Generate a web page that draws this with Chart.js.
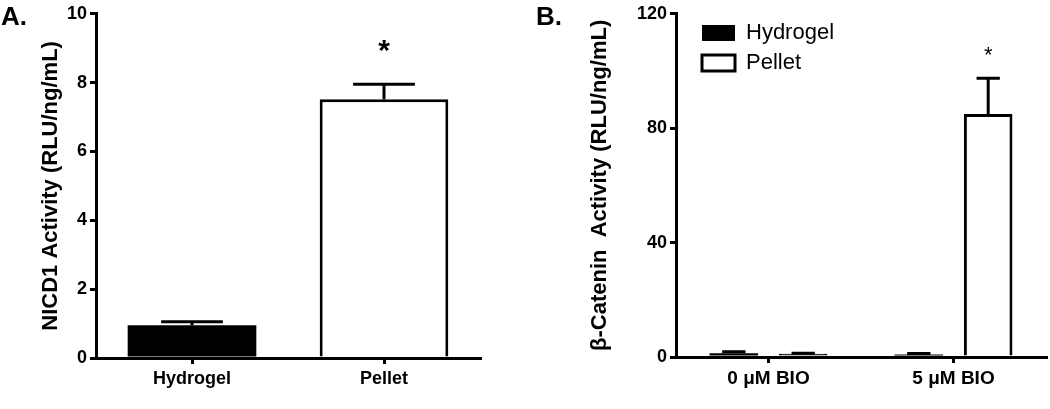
<!DOCTYPE html>
<html>
<head>
<meta charset="utf-8">
<script src="https://cdn.jsdelivr.net/npm/chart.js@4.4.0/dist/chart.umd.min.js"></script>
<style>
  body { margin: 0; background: #fff; }
  #wrap { position: relative; width: 1050px; height: 409px; font-family: Arial, "Liberation Sans", sans-serif; }
  .box { position: absolute; top: 0; height: 409px; }
  .tag { position: absolute; top: 3px; font-size: 26px; font-weight: bold; line-height: 1; color: #000; }
</style>
</head>
<body>
<div id="wrap">
  <div class="box" style="left:0;width:500px"><canvas id="chartA"></canvas></div>
  <div class="box" style="left:500px;width:550px"><canvas id="chartB"></canvas></div>
  <div class="tag" style="left:1px">A.</div>
  <div class="tag" style="left:536px">B.</div>
</div>
<script>
// panel A
var groupsA = ["Hydrogel", "Pellet"];
var meanA = [0.95, 7.52];
var errA = [0.1, 0.43];
var starA = ["", "*"];
var ticksA = [0, 2, 4, 6, 8, 10];

// panel B
var groupsB = ["0 μM BIO", "5 μM BIO"];
var hydrogelB = [1.3, 0.9];
var hydrogelErrB = [0.5, 0.3];
var pelletB = [1.1, 85];
var pelletErrB = [0.2, 12.5];
var pelletStarB = ["", "*"];
var ticksB = [0, 40, 80, 120];

Chart.defaults.font.family = "Arial, 'Liberation Sans', sans-serif";
Chart.defaults.color = "#000";

// one-sided error bars (+SEM) and significance stars
var errorBars = {
  id: "errorBars",
  afterDatasetsDraw: function(chart, args, opts) {
    var ctx = chart.ctx;
    var y = chart.scales.y;
    chart.data.datasets.forEach(function(ds, i) {
      var meta = chart.getDatasetMeta(i);
      meta.data.forEach(function(bar, j) {
        var top = y.getPixelForValue(ds.data[j] + ds.err[j]);
        var half = bar.width * 0.24;
        ctx.save();
        ctx.strokeStyle = "#000";
        ctx.lineWidth = 3;
        ctx.beginPath();
        ctx.moveTo(bar.x, bar.y);
        ctx.lineTo(bar.x, top);
        ctx.moveTo(bar.x - half, top);
        ctx.lineTo(bar.x + half, top);
        ctx.stroke();
        if (ds.stars && ds.stars[j]) {
          ctx.fillStyle = "#000";
          ctx.font = opts.starFont;
          ctx.textAlign = "center";
          ctx.textBaseline = "alphabetic";
          ctx.fillText(ds.stars[j], bar.x, top - opts.starGap);
        }
        ctx.restore();
      });
    });
  }
};

// nudge the in-plot legend
var legendShift = {
  id: "legendShift",
  afterLayout: function(chart, args, opts) {
    if (chart.legend) {
      chart.legend.left += opts.dx;
      chart.legend.right += opts.dx;
      chart.legend.top += opts.dy;
      chart.legend.bottom += opts.dy;
    }
  }
};

function xAxis(height, size) {
  return {
    grid: { display: true, drawOnChartArea: false, offset: false, color: "#000", lineWidth: 3, tickLength: 6 },
    border: { color: "#000", width: 3 },
    ticks: { color: "#000", padding: 4, font: { size: size, weight: "bold" } },
    afterFit: function(s) { s.height = height; }
  };
}

function yAxis(max, ticks, width, title, titlePad, size) {
  return {
    min: 0,
    max: max,
    afterBuildTicks: function(s) { s.ticks = ticks.map(function(v) { return { value: v }; }); },
    grid: { display: true, drawOnChartArea: false, color: "#000", lineWidth: 3, tickLength: 6 },
    border: { color: "#000", width: 3 },
    ticks: { color: "#000", padding: 3, font: { size: size, weight: "bold" } },
    title: { display: true, text: title, color: "#000", font: { size: 22, weight: "bold" }, padding: { top: titlePad, bottom: 0 } },
    afterFit: function(s) { s.width = width; }
  };
}

new Chart(document.getElementById("chartA"), {
  type: "bar",
  data: {
    labels: groupsA,
    datasets: [{
      data: meanA,
      err: errA,
      stars: starA,
      backgroundColor: ["#000", "#fff"],
      borderColor: "#000",
      borderWidth: [0, 3],
      barPercentage: 0.67,
      categoryPercentage: 1
    }]
  },
  options: {
    responsive: true,
    maintainAspectRatio: false,
    animation: false,
    layout: { padding: { top: 9, right: 20, left: 0, bottom: 0 } },
    plugins: {
      legend: { display: false },
      tooltip: { enabled: false },
      errorBars: { starFont: "bold 30px Arial, 'Liberation Sans', sans-serif", starGap: 24 }
    },
    scales: {
      x: xAxis(51, 18),
      y: yAxis(10, ticksA, 96, "NICD1 Activity (RLU/ng/mL)", 38, 18)
    }
  },
  plugins: [errorBars]
});

new Chart(document.getElementById("chartB"), {
  type: "bar",
  data: {
    labels: groupsB,
    datasets: [
      {
        label: "Hydrogel",
        data: hydrogelB,
        err: hydrogelErrB,
        legendFill: "#000",
        backgroundColor: "#000",
        borderColor: "#000",
        borderWidth: 0,
        barPercentage: 0.7,
        categoryPercentage: 0.75
      },
      {
        label: "Pellet",
        data: pelletB,
        err: pelletErrB,
        stars: pelletStarB,
        legendFill: "#fff",
        // a 3px outline fills a near-zero bar completely
        backgroundColor: function(c) { return pelletB[c.dataIndex] < 5 ? "#000" : "#fff"; },
        borderColor: "#000",
        borderWidth: 3,
        barPercentage: 0.7,
        categoryPercentage: 0.75
      }
    ]
  },
  options: {
    responsive: true,
    maintainAspectRatio: false,
    animation: false,
    layout: { padding: { top: 13, right: 4, left: 0, bottom: 0 } },
    plugins: {
      legend: {
        position: "chartArea",
        align: "start",
        labels: {
          color: "#000", boxWidth: 33, boxHeight: 16, padding: 8, font: { size: 22 },
          generateLabels: function(chart) {
            var items = Chart.defaults.plugins.legend.labels.generateLabels(chart);
            items.forEach(function(it) { it.fillStyle = chart.data.datasets[it.datasetIndex].legendFill; });
            return items;
          }
        }
      },
      legendShift: { dx: 18, dy: 14 },
      tooltip: { enabled: false },
      errorBars: { starFont: "22px Arial, 'Liberation Sans', sans-serif", starGap: 16 }
    },
    scales: {
      x: xAxis(52, 19),
      y: yAxis(120, ticksB, 176, "β-Catenin  Activity (RLU/ng/mL)", 87, 18)
    }
  },
  plugins: [errorBars, legendShift]
});
</script>
</body>
</html>
